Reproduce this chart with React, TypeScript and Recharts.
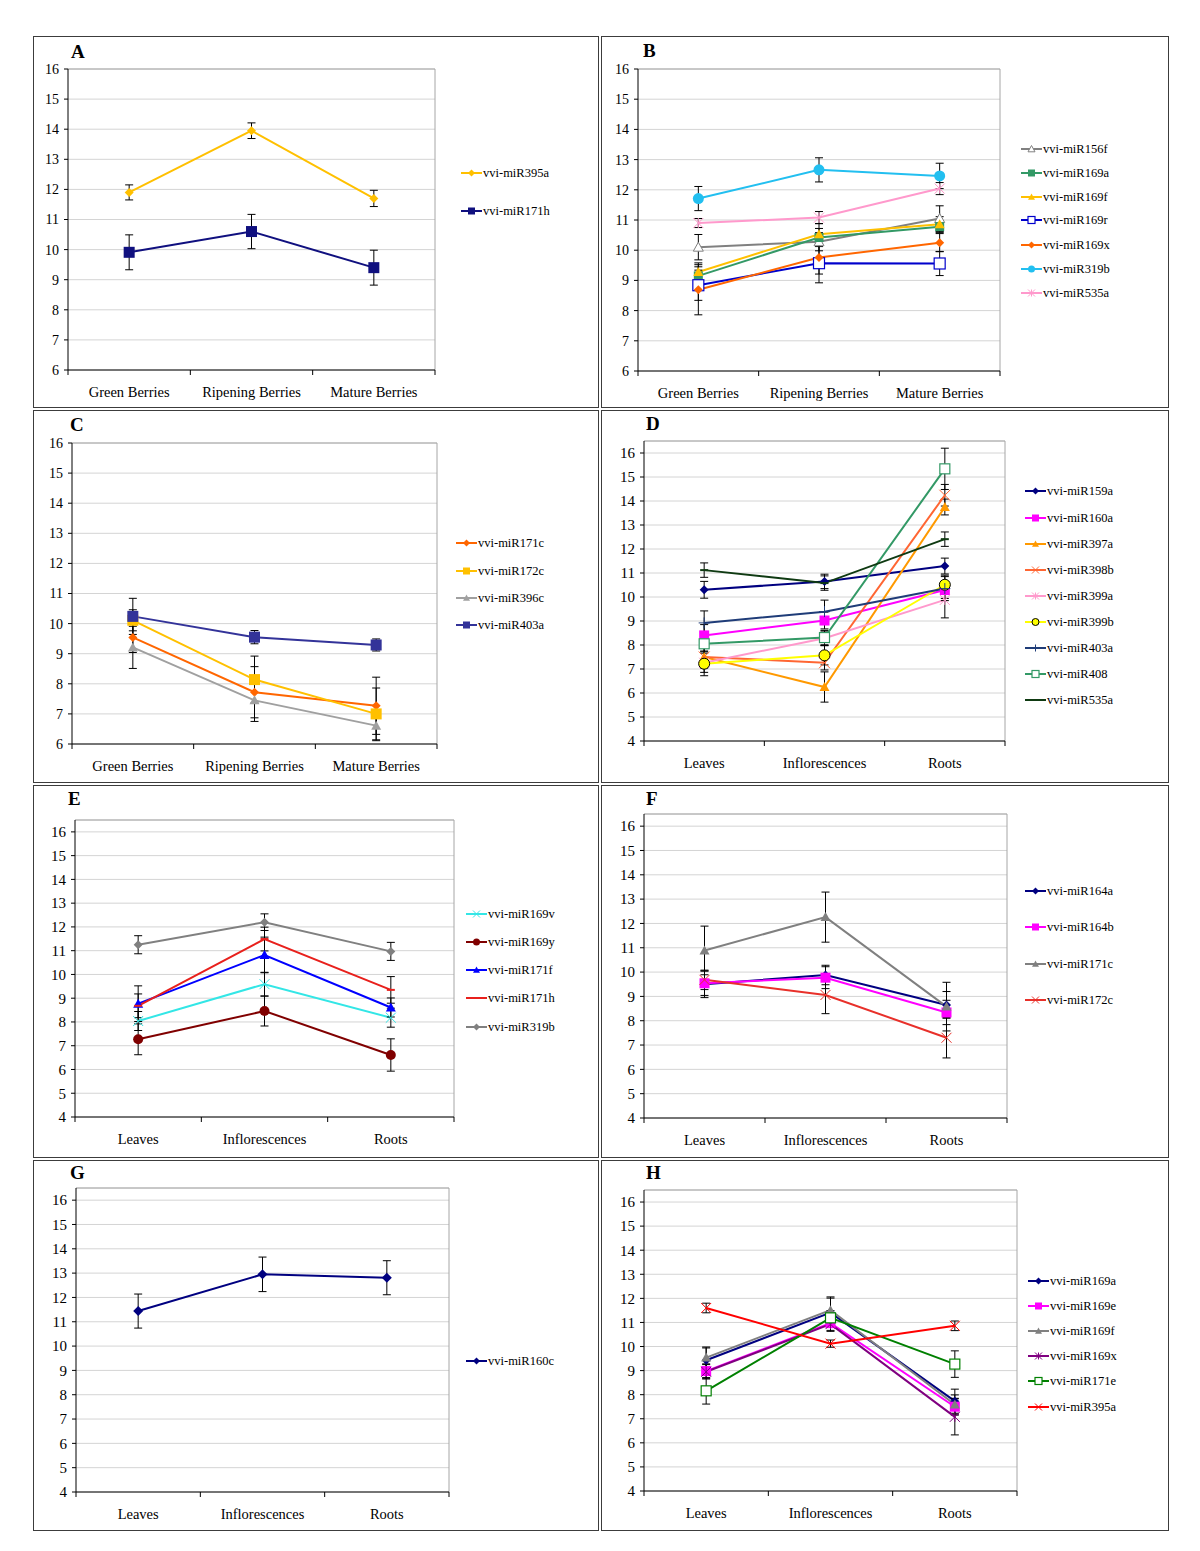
import React from 'react';
import { ComposedChart, Line, XAxis, YAxis, CartesianGrid, ErrorBar, ReferenceLine } from 'recharts';

const FONT = '"Liberation Serif", "Times New Roman", serif';

// categories
const berryStages = ['Green Berries', 'Ripening Berries', 'Mature Berries'];
const tissues = ['Leaves', 'Inflorescences', 'Roots'];

// A
const aNames = ['vvi-miR395a', 'vvi-miR171h'];
const aValues = [[11.9, 13.95, 11.7], [9.91, 10.6, 9.4]];
const aErrors = [[0.25, 0.26, 0.27], [0.58, 0.57, 0.58]];

// B
const bNames = ['vvi-miR156f', 'vvi-miR169a', 'vvi-miR169f', 'vvi-miR169r', 'vvi-miR169x', 'vvi-miR319b', 'vvi-miR535a'];
const bValues = [
  [10.1, 10.28, 11.05],
  [9.15, 10.42, 10.78],
  [9.28, 10.53, 10.86],
  [8.84, 9.57, 9.56],
  [8.69, 9.76, 10.25],
  [11.71, 12.66, 12.46],
  [10.9, 11.08, 12.04],
];
const bErrors = [
  [0.42, 0.3, 0.42],
  [0.3, 0.3, 0.2],
  [0.3, 0.35, 0.25],
  [0.5, 0.65, 0.4],
  [0.83, 0.55, 0.3],
  [0.4, 0.4, 0.42],
  [0.15, 0.2, 0.2],
];

// C
const cNames = ['vvi-miR171c', 'vvi-miR172c', 'vvi-miR396c', 'vvi-miR403a'];
const cValues = [[9.54, 7.72, 7.27], [10.11, 8.14, 7.0], [9.21, 7.45, 6.61], [10.24, 9.55, 9.29]];
const cErrors = [[0.5, 0.85, 0.95], [0.35, 0.78, 0.86], [0.7, 0.7, 0.5], [0.6, 0.22, 0.2]];

// D
const dNames = ['vvi-miR159a', 'vvi-miR160a', 'vvi-miR397a', 'vvi-miR398b', 'vvi-miR399a', 'vvi-miR399b', 'vvi-miR403a', 'vvi-miR408', 'vvi-miR535a'];
const dValues = [
  [10.3, 10.65, 11.29],
  [8.4, 9.02, 10.29],
  [7.5, 6.25, 13.75],
  [7.5, 7.26, 14.24],
  [7.26, 8.28, 9.88],
  [7.22, 7.57, 10.51],
  [8.92, 9.39, 10.35],
  [8.05, 8.31, 15.34],
  [11.12, 10.58, 12.41],
];
const dErrors = [
  [0.35, 0.3, 0.33],
  [0.45, 0.35, 0.35],
  [0.45, 0.63, 0.33],
  [0.45, 0.3, 0.45],
  [0.4, 0.3, 0.75],
  [0.5, 0.4, 0.4],
  [0.5, 0.48, 0.5],
  [0.3, 0.3, 0.86],
  [0.3, 0.3, 0.3],
];

// E
const eNames = ['vvi-miR169v', 'vvi-miR169y', 'vvi-miR171f', 'vvi-miR171h', 'vvi-miR319b'];
const eValues = [[8.04, 9.59, 8.18], [7.27, 8.46, 6.61], [8.77, 10.82, 8.61], [8.68, 11.49, 9.35], [11.25, 12.2, 10.97]];
const eErrors = [[0.4, 0.5, 0.4], [0.65, 0.63, 0.68], [0.75, 0.75, 0.4], [0.5, 0.5, 0.56], [0.38, 0.35, 0.38]];

// F
const fNames = ['vvi-miR164a', 'vvi-miR164b', 'vvi-miR171c', 'vvi-miR172c'];
const fValues = [[9.5, 9.88, 8.65], [9.54, 9.77, 8.34], [10.89, 12.26, 8.58], [9.68, 9.06, 7.3]];
const fErrors = [[0.55, 0.4, 0.55], [0.5, 0.45, 0.5], [1.0, 1.03, 1.0], [0.4, 0.77, 0.83]];

// G
const gNames = ['vvi-miR160c'];
const gValues = [[11.44, 12.95, 12.81]];
const gErrors = [[0.7, 0.71, 0.7]];

// H
const hNames = ['vvi-miR169a', 'vvi-miR169e', 'vvi-miR169f', 'vvi-miR169x', 'vvi-miR171e', 'vvi-miR395a'];
const hValues = [[9.43, 11.41, 7.73], [8.98, 10.97, 7.5], [9.54, 11.51, 7.59], [8.95, 10.93, 7.08], [8.16, 11.19, 9.27], [11.6, 10.12, 10.86]];
const hErrors = [[0.55, 0.6, 0.5], [0.3, 0.3, 0.35], [0.4, 0.55, 0.4], [0.3, 0.3, 0.75], [0.55, 0.3, 0.55], [0.2, 0.15, 0.2]];

const berryTicks = [6, 7, 8, 9, 10, 11, 12, 13, 14, 15, 16];
const tissueTicks = [4, 5, 6, 7, 8, 9, 10, 11, 12, 13, 14, 15, 16];

type Shape = 'diamond' | 'square' | 'squareOpen' | 'triangle' | 'triangleOpen' | 'circle' | 'circleOutline' | 'x' | 'star' | 'plus' | 'dash';

function Marker({ shape, cx, cy, color, size }: { shape: Shape; cx: number; cy: number; color: string; size: number }) {
  const r = size / 2;
  switch (shape) {
    case 'diamond':
      return <polygon points={`${cx},${cy - r} ${cx + r},${cy} ${cx},${cy + r} ${cx - r},${cy}`} fill={color} />;
    case 'square':
      return <rect x={cx - r} y={cy - r} width={size} height={size} fill={color} />;
    case 'squareOpen':
      return <rect x={cx - r} y={cy - r} width={size} height={size} fill="#fff" stroke={color} strokeWidth={1.2} />;
    case 'triangle':
      return <polygon points={`${cx},${cy - r} ${cx + r},${cy + r * 0.8} ${cx - r},${cy + r * 0.8}`} fill={color} />;
    case 'triangleOpen':
      return <polygon points={`${cx},${cy - r} ${cx + r},${cy + r * 0.8} ${cx - r},${cy + r * 0.8}`} fill="#fff" stroke={color} strokeWidth={1} />;
    case 'circle':
      return <circle cx={cx} cy={cy} r={r} fill={color} />;
    case 'circleOutline':
      return <circle cx={cx} cy={cy} r={r} fill={color} stroke="#000" strokeWidth={1} />;
    case 'x':
      return (
        <g stroke={color} strokeWidth={1}>
          <line x1={cx - r} y1={cy - r} x2={cx + r} y2={cy + r} />
          <line x1={cx - r} y1={cy + r} x2={cx + r} y2={cy - r} />
        </g>
      );
    case 'star':
      return (
        <g stroke={color} strokeWidth={1}>
          <line x1={cx - r} y1={cy - r} x2={cx + r} y2={cy + r} />
          <line x1={cx - r} y1={cy + r} x2={cx + r} y2={cy - r} />
          <line x1={cx} y1={cy - r} x2={cx} y2={cy + r} />
        </g>
      );
    case 'plus':
      return (
        <g stroke={color} strokeWidth={1}>
          <line x1={cx - r} y1={cy} x2={cx + r} y2={cy} />
          <line x1={cx} y1={cy - r} x2={cx} y2={cy + r} />
        </g>
      );
    case 'dash':
      return <line x1={cx - r} y1={cy} x2={cx + r} y2={cy} stroke={color} strokeWidth={2} />;
    default:
      return null;
  }
}

interface PanelProps {
  letter: string;
  letterPos: [number, number];
  categories: string[];
  names: string[];
  values: number[][];
  errors: number[][];
  colors: string[];
  shapes: Shape[];
  sizes?: number[];
  box: [number, number, number, number];
  plot: { l: number; r: number; t: number; b: number };
  domain: [number, number];
  ticks: number[];
  yFont: number;
  legendX: number;
  legendYs: number[];
}

function Panel(p: PanelProps) {
  const [bx, by, bw, bh] = p.box;
  const rows = p.categories.map((c, i) => {
    const row: any = { x: i + 0.5, label: c };
    p.names.forEach((_, j) => {
      row['s' + j] = p.values[j][i];
      row['e' + j] = p.errors[j][i];
    });
    return row;
  });
  const axisY = p.plot.b - by;
  // category labels sit between the boundary ticks
  const renderTick = (props: any) => {
    const { x, payload } = props;
    const v = payload.value;
    if (Number.isInteger(v)) {
      return <line x1={x} x2={x} y1={axisY} y2={axisY + 5} stroke="#000" strokeWidth={1} />;
    }
    return (
      <text x={x} y={axisY + 27} textAnchor="middle" fontSize={14.5} fontFamily={FONT} fill="#000">
        {p.categories[Math.floor(v)]}
      </text>
    );
  };

  return (
    <>
      <div
        style={{
          position: 'absolute', left: bx, top: by, width: bw, height: bh,
          border: '1px solid #3c3c3c', boxSizing: 'border-box', background: '#fff',
        }}
      />
      <div style={{ position: 'absolute', left: bx, top: by }}>
        <ComposedChart
          width={bw}
          height={bh}
          data={rows}
          margin={{ top: p.plot.t - by, right: bx + bw - p.plot.r, bottom: by + bh - p.plot.b - 30, left: 0 }}
        >
          <CartesianGrid vertical={false} stroke="#d4d4d4" />
          <XAxis
            type="number"
            dataKey="x"
            domain={[0, 3]}
            ticks={[0, 0.5, 1, 1.5, 2, 2.5, 3]}
            interval={0}
            allowDataOverflow
            tickLine={false}
            axisLine={{ stroke: '#000' }}
            tick={renderTick}
            height={30}
          />
          <YAxis
            type="number"
            domain={p.domain}
            ticks={p.ticks}
            interval={0}
            allowDataOverflow
            width={p.plot.l - bx}
            tickSize={4}
            tickMargin={5}
            axisLine={{ stroke: '#000' }}
            tickLine={{ stroke: '#000' }}
            tick={{ fontSize: p.yFont, fontFamily: FONT, fill: '#000' }}
          />
          <ReferenceLine y={p.domain[1]} stroke="#a6a6a6" />
          <ReferenceLine x={3} stroke="#a6a6a6" />
          {p.names.map((n, j) => (
            <Line
              key={n}
              type="linear"
              dataKey={'s' + j}
              name={n}
              stroke={p.colors[j]}
              strokeWidth={2}
              isAnimationActive={false}
              activeDot={false}
              dot={(d: any) => (
                <g key={n + d.index}>
                  <Marker shape={p.shapes[j]} cx={d.cx} cy={d.cy} color={p.colors[j]} size={p.sizes ? p.sizes[j] : 9} />
                </g>
              )}
            >
              <ErrorBar dataKey={'e' + j} direction="y" width={4} stroke="#000" strokeWidth={1} />
            </Line>
          ))}
        </ComposedChart>
      </div>
      <svg
        width={bw}
        height={bh}
        style={{ position: 'absolute', left: bx, top: by, pointerEvents: 'none' }}
      >
        <text x={p.letterPos[0] - bx} y={p.letterPos[1] - by} fontSize={19} fontWeight="bold" fontFamily={FONT} fill="#000">
          {p.letter}
        </text>
        {p.names.map((n, j) => {
          const lx = p.legendX - bx;
          const ly = p.legendYs[j] - by;
          return (
            <g key={n}>
              <line x1={lx} x2={lx + 21} y1={ly} y2={ly} stroke={p.colors[j]} strokeWidth={2} />
              <Marker shape={p.shapes[j]} cx={lx + 10.5} cy={ly} color={p.colors[j]} size={7} />
              <text x={lx + 22} y={ly + 4} fontSize={12.5} fontFamily={FONT} fill="#000">{n}</text>
            </g>
          );
        })}
      </svg>
    </>
  );
}

export default function App() {
  return (
    <div style={{ position: 'absolute', left: 0, top: 0, width: 1200, height: 1551, background: '#fff' }}>
      <Panel
        letter="A" letterPos={[71, 58]} categories={berryStages}
        names={aNames} values={aValues} errors={aErrors}
        colors={['#ffc000', '#10107f']} shapes={['diamond', 'square']} sizes={[9, 11]}
        box={[33, 36, 566, 372]} plot={{ l: 68, r: 435, t: 69, b: 370 }}
        domain={[6, 16]} ticks={berryTicks} yFont={14}
        legendX={461} legendYs={[173, 211]}
      />
      <Panel
        letter="B" letterPos={[643, 57]} categories={berryStages}
        names={bNames} values={bValues} errors={bErrors}
        colors={['#808080', '#339966', '#ffc000', '#0000cc', '#ff6600', '#22bff0', '#ff99cc']}
        shapes={['triangleOpen', 'square', 'triangle', 'squareOpen', 'diamond', 'circle', 'star']}
        sizes={[10, 9, 10, 11, 9, 11, 10]}
        box={[601, 36, 568, 372]} plot={{ l: 638, r: 1000, t: 69, b: 371 }}
        domain={[6, 16]} ticks={berryTicks} yFont={14}
        legendX={1021} legendYs={[149, 173, 197, 220, 245, 269, 293]}
      />
      <Panel
        letter="C" letterPos={[70, 431]} categories={berryStages}
        names={cNames} values={cValues} errors={cErrors}
        colors={['#ff6600', '#ffc000', '#a0a0a0', '#333399']}
        shapes={['diamond', 'square', 'triangle', 'square']} sizes={[9, 11, 10, 11]}
        box={[33, 410, 566, 373]} plot={{ l: 72, r: 437, t: 443, b: 744 }}
        domain={[6, 16]} ticks={berryTicks} yFont={14}
        legendX={456} legendYs={[543, 571, 598, 625]}
      />
      <Panel
        letter="D" letterPos={[646, 430]} categories={tissues}
        names={dNames} values={dValues} errors={dErrors}
        colors={['#000080', '#ff00ff', '#ff9900', '#ff6633', '#ff99cc', '#ffff00', '#1f3c78', '#339966', '#0f3a12']}
        shapes={['diamond', 'square', 'triangle', 'x', 'star', 'circleOutline', 'plus', 'squareOpen', 'dash']}
        sizes={[9, 10, 10, 11, 10, 11, 11, 10, 8]}
        box={[601, 410, 568, 373]} plot={{ l: 644, r: 1005, t: 441, b: 741 }}
        domain={[4, 16.5]} ticks={tissueTicks} yFont={15}
        legendX={1025} legendYs={[491, 518, 544, 570, 596, 622, 648, 674, 700]}
      />
      <Panel
        letter="E" letterPos={[68, 805]} categories={tissues}
        names={eNames} values={eValues} errors={eErrors}
        colors={['#33e6e6', '#800000', '#0000ff', '#e8201c', '#808080']}
        shapes={['x', 'circle', 'triangle', 'dash', 'diamond']} sizes={[10, 10, 10, 8, 9]}
        box={[33, 785, 566, 373]} plot={{ l: 75, r: 454, t: 820, b: 1117 }}
        domain={[4, 16.5]} ticks={tissueTicks} yFont={15}
        legendX={466} legendYs={[914, 942, 970, 998, 1027]}
      />
      <Panel
        letter="F" letterPos={[646, 805]} categories={tissues}
        names={fNames} values={fValues} errors={fErrors}
        colors={['#000080', '#ff00ff', '#808080', '#e8302a']}
        shapes={['diamond', 'square', 'triangle', 'x']} sizes={[9, 10, 10, 10]}
        box={[601, 785, 568, 373]} plot={{ l: 644, r: 1007, t: 814, b: 1118 }}
        domain={[4, 16.5]} ticks={tissueTicks} yFont={15}
        legendX={1025} legendYs={[891, 927, 964, 1000]}
      />
      <Panel
        letter="G" letterPos={[70, 1179]} categories={tissues}
        names={gNames} values={gValues} errors={gErrors}
        colors={['#000080']} shapes={['diamond']} sizes={[10]}
        box={[33, 1160, 566, 371]} plot={{ l: 76, r: 449, t: 1188, b: 1492 }}
        domain={[4, 16.5]} ticks={tissueTicks} yFont={15}
        legendX={466} legendYs={[1361]}
      />
      <Panel
        letter="H" letterPos={[646, 1179]} categories={tissues}
        names={hNames} values={hValues} errors={hErrors}
        colors={['#000080', '#ff00ff', '#808080', '#800080', '#008000', '#ff0000']}
        shapes={['diamond', 'square', 'triangle', 'star', 'squareOpen', 'x']} sizes={[9, 10, 10, 10, 10, 10]}
        box={[601, 1160, 568, 371]} plot={{ l: 644, r: 1017, t: 1190, b: 1491 }}
        domain={[4, 16.5]} ticks={tissueTicks} yFont={15}
        legendX={1028} legendYs={[1281, 1306, 1331, 1356, 1381, 1407]}
      />
    </div>
  );
}
